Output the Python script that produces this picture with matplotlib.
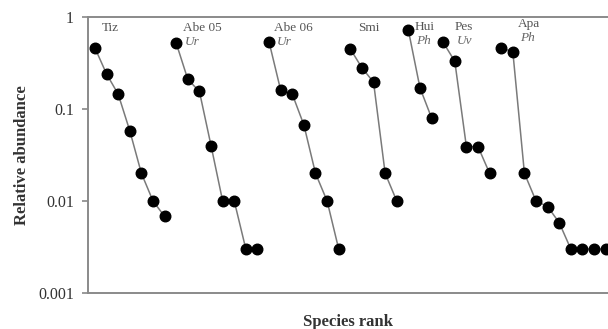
import numpy as np
import matplotlib
matplotlib.use('Agg')
from matplotlib import pyplot as plt

# relative abundance per site, ranked
sites = ['Tiz', 'Abe 05', 'Abe 06', 'Smi', 'Hui', 'Pes', 'Apa']
subtitles = ['', 'Ur', 'Ur', '', 'Ph', 'Uv', 'Ph']
tiz = [0.46, 0.24, 0.145, 0.058, 0.02, 0.01, 0.0068]
abe05 = [0.52, 0.21, 0.155, 0.04, 0.01, 0.01, 0.003, 0.003]
abe06 = [0.535, 0.16, 0.145, 0.067, 0.02, 0.01, 0.003]
smi = [0.45, 0.28, 0.196, 0.02, 0.01]
hui = [0.72, 0.17, 0.08]
pes = [0.53, 0.33, 0.039, 0.039, 0.02]
apa = [0.46, 0.42, 0.02, 0.01, 0.0087, 0.0058, 0.003, 0.003, 0.003, 0.003]
series = [tiz, abe05, abe06, smi, hui, pes, apa]

# where the site names sit relative to the first point
label_dx = [0.6, 0.55, 0.45, 0.7, 0.5, 1.0, 1.4]
label_y = [0.96, 0.96, 0.96, 0.96, 0.965, 0.965, 0.975]

plt.rcParams['font.family'] = ['Liberation Serif', 'DejaVu Serif']

fig = plt.figure(figsize=(6.08, 3.29), dpi=100)
ax = fig.add_axes([88 / 608, 36 / 329, 520 / 608, 276 / 329])

start = 0
for name, sub, vals, dx, ly in zip(sites, subtitles, series, label_dx, label_y):
    x = np.arange(start, start + len(vals))
    ax.plot(x, vals, color='#7a7a7a', lw=1.1, marker='o', ms=7.6,
            mfc='black', mec='black', zorder=3)
    ax.text(start + dx, ly, name, transform=ax.get_xaxis_transform(),
            fontsize=9.5, color='#555555', va='center', ha='left')
    if sub:
        ax.text(start + dx + 0.2, ly - 0.052, sub, transform=ax.get_xaxis_transform(),
                fontsize=9.5, color='#666666', style='italic', va='center', ha='left')
    start += len(vals)

ax.set_yscale('log')
ax.set_ylim(0.001, 1)
ax.set_xlim(-0.6, 44.2)
ax.set_yticks([0.001, 0.01, 0.1, 1])
ax.set_yticklabels(['0.001', '0.01', '0.1', '1'])
ax.minorticks_off()
ax.set_xticks([])
ax.tick_params(axis='y', labelsize=11.5, length=4, color='#888888', width=1.2,
               labelcolor='#333333', pad=6)

for s in ['left', 'bottom', 'top']:
    ax.spines[s].set_color('#8a8a8a')
    ax.spines[s].set_linewidth(1.4)
ax.spines['right'].set_visible(False)

ax.set_ylabel('Relative abundance', fontsize=12, fontweight='bold',
              color='#333333', labelpad=6)
ax.set_xlabel('Species rank', fontsize=12, fontweight='bold',
              color='#333333', labelpad=15)

fig.savefig('out.png', dpi=100)
